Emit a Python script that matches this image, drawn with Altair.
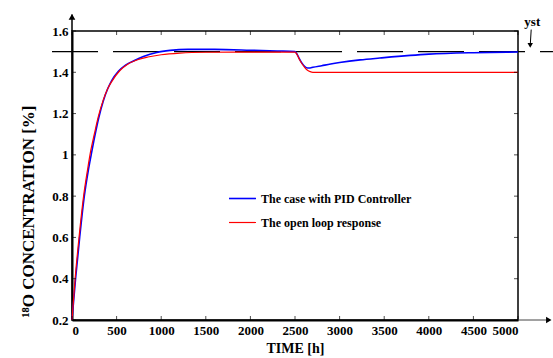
import altair as alt
import pandas as pd

# ---- data ----
SERIES = ["The case with PID Controller", "The open loop response"]
COLORS = ["#0000ff", "#ff0000"]
WIDTHS = [1.6, 1.2]

T_PID = [0, 40, 86, 138, 183, 215, 255, 300, 350, 400, 445, 520, 600, 706, 800, 950,
         1100, 1300, 1600, 2000, 2300, 2500, 2520, 2550, 2580, 2610, 2640, 2670, 2700,
         2800, 2900, 3000, 3230, 3450, 4000, 4500, 5000]
Y_PID = [0.2, 0.4, 0.6, 0.8, 0.925, 1.0, 1.09, 1.18, 1.26, 1.32, 1.36, 1.405, 1.435, 1.458, 1.476, 1.496,
         1.506, 1.511, 1.511, 1.507, 1.503, 1.5, 1.49, 1.465, 1.443, 1.428, 1.421, 1.421, 1.424,
         1.432, 1.44, 1.447, 1.46, 1.469, 1.488, 1.495, 1.498]

T_OPEN = [0, 35, 80, 130, 175, 210, 250, 295, 350, 400, 445, 540, 620, 745, 850, 1000,
          1210, 1500, 2000, 2500, 2520, 2550, 2580, 2610, 2640, 2670, 2700, 3000, 4000, 5000]
Y_OPEN = [0.2, 0.4, 0.605, 0.8, 0.93, 1.02, 1.1, 1.185, 1.265, 1.32, 1.355, 1.41, 1.438, 1.462, 1.474, 1.485,
          1.493, 1.497, 1.498, 1.498, 1.488, 1.462, 1.44, 1.423, 1.41, 1.403, 1.4, 1.4, 1.4, 1.4]

X_TICKS = [0, 500, 1000, 1500, 2000, 2500, 3000, 3500, 4000, 4500, 5000]
Y_TICKS = [0.2, 0.4, 0.6, 0.8, 1.0, 1.2, 1.4, 1.6]
X_DOMAIN = [0, 5000]
Y_DOMAIN = [0.2, 1.6]
YST = 1.5

W, H = 446, 289
FONT = "Liberation Serif"

df = pd.concat([
    pd.DataFrame({"t": T_PID, "v": Y_PID, "series": SERIES[0]}),
    pd.DataFrame({"t": T_OPEN, "v": Y_OPEN, "series": SERIES[1]}),
])

xs = alt.Scale(domain=X_DOMAIN, nice=False, zero=False)
ys = alt.Scale(domain=Y_DOMAIN, nice=False, zero=False)

x_axis = alt.Axis(values=X_TICKS, format="d", title="TIME [h]", tickSize=0, labelPadding=4,
                  domainWidth=2, domainColor="black", grid=False, labelFont=FONT, labelFontSize=13,
                  labelFontWeight="bold", labelColor="black", titleFont=FONT, titleFontSize=14,
                  titleFontWeight="bold", titleColor="black", titleY=28, titleBaseline="middle")
y_axis = alt.Axis(values=Y_TICKS, format="~g", title="¹⁸O CONCENTRATION [%]", tickSize=0, labelPadding=4,
                  domainWidth=2, domainColor="black", grid=False, labelFont=FONT, labelFontSize=13,
                  labelFontWeight="bold", labelColor="black", titleFont=FONT, titleFontSize=17,
                  titleFontWeight="bold", titleColor="black", titleX=-44, titleY=180,
                  titleAngle=270, titleAlign="center", titleBaseline="middle")

lines = alt.Chart(df).mark_line(interpolate="monotone").encode(
    x=alt.X("t:Q", scale=xs, axis=x_axis),
    y=alt.Y("v:Q", scale=ys, axis=y_axis),
    color=alt.Color("series:N", scale=alt.Scale(domain=SERIES, range=COLORS),
                    legend=alt.Legend(title=None, orient="none", legendX=156, legendY=153,
                                      symbolType="stroke", symbolSize=729, symbolStrokeWidth=1.8,
                                      labelFont=FONT, labelFontSize=12, labelFontWeight="bold",
                                      labelColor="black", labelOffset=4, rowPadding=3, padding=0,
                                      labelLimit=0)),
    strokeWidth=alt.StrokeWidth("series:N", scale=alt.Scale(domain=SERIES, range=WIDTHS), legend=None),
    detail="series:N",
)

# inward ticks on all four sides
xt = pd.DataFrame({"t": X_TICKS})
yt = pd.DataFrame({"v": Y_TICKS})
tick_b = alt.Chart(xt).mark_tick(orient="vertical", size=4, thickness=1, color="black").encode(
    x=alt.X("t:Q", scale=xs), y=alt.value(H - 2))
tick_t = alt.Chart(xt).mark_tick(orient="vertical", size=4, thickness=1, color="black").encode(
    x=alt.X("t:Q", scale=xs), y=alt.value(2))
tick_l = alt.Chart(yt).mark_tick(orient="horizontal", size=4, thickness=1, color="black").encode(
    y=alt.Y("v:Q", scale=ys), x=alt.value(2))
tick_r = alt.Chart(yt).mark_tick(orient="horizontal", size=4, thickness=1, color="black").encode(
    y=alt.Y("v:Q", scale=ys), x=alt.value(W - 2))

# axis extensions with arrow heads
y_ext = alt.Chart(pd.DataFrame({"x": [0], "y1": [Y_DOMAIN[1]], "y2": [1.68]})).mark_rule(
    color="black", strokeWidth=1.5).encode(x=alt.X("x:Q", scale=xs), y=alt.Y("y1:Q", scale=ys), y2="y2:Q")
y_head = alt.Chart(pd.DataFrame({"x": [0], "y": [1.668]})).mark_point(
    shape="triangle-up", filled=True, size=45, color="black", opacity=1).encode(
    x=alt.X("x:Q", scale=xs), y=alt.Y("y:Q", scale=ys))
x_ext = alt.Chart(pd.DataFrame({"x1": [X_DOMAIN[1]], "x2": [5360], "y": [Y_DOMAIN[0]]})).mark_rule(
    color="#444444", strokeWidth=1).encode(x=alt.X("x1:Q", scale=xs), x2="x2:Q", y=alt.Y("y:Q", scale=ys))
x_head = alt.Chart(pd.DataFrame({"x": [5345], "y": [Y_DOMAIN[0]]})).mark_point(
    shape="triangle-right", filled=True, size=40, color="black", opacity=1).encode(
    x=alt.X("x:Q", scale=xs), y=alt.Y("y:Q", scale=ys))

# set-point dashed line
yst_line = alt.Chart(pd.DataFrame({"x1": [-224], "x2": [5392], "y": [YST]})).mark_rule(
    color="black", strokeWidth=1.3, strokeDash=[46, 15]).encode(
    x=alt.X("x1:Q", scale=xs), x2="x2:Q", y=alt.Y("y:Q", scale=ys))
yst_text = alt.Chart(pd.DataFrame({"x": [5160], "y": [1.625], "txt": ["yst"]})).mark_text(
    font=FONT, fontSize=13, fontWeight="bold", color="black", baseline="alphabetic", align="center").encode(
    x=alt.X("x:Q", scale=xs), y=alt.Y("y:Q", scale=ys), text="txt:N")
yst_arrow = alt.Chart(pd.DataFrame({"x1": [5148], "x2": [5138], "y1": [1.607], "y2": [1.535]})).mark_rule(
    color="black", strokeWidth=1).encode(
    x=alt.X("x1:Q", scale=xs), x2="x2:Q", y=alt.Y("y1:Q", scale=ys), y2="y2:Q")
yst_head = alt.Chart(pd.DataFrame({"x": [5137], "y": [1.53]})).mark_point(
    shape="triangle-down", filled=True, size=30, color="black", opacity=1).encode(
    x=alt.X("x:Q", scale=xs), y=alt.Y("y:Q", scale=ys))

chart = alt.layer(
    yst_line, lines, tick_b, tick_t, tick_l, tick_r,
    y_ext, y_head, x_ext, x_head, yst_text, yst_arrow, yst_head,
).properties(
    width=W, height=H,
    padding={"left": 72, "top": 31, "right": 35, "bottom": 38},
    autosize=alt.AutoSizeParams(type="none"),
    background="white",
).configure_view(stroke="black", strokeWidth=1.5)

chart.save("out.html", embed_options={"renderer": "svg", "actions": False})
